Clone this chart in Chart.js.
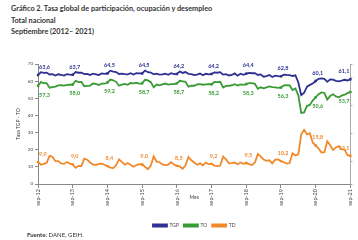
<!DOCTYPE html>
<html>
<head>
<meta charset="utf-8">
<script src="https://cdn.jsdelivr.net/npm/chart.js@4"></script>
<style>
  body { margin: 0; width: 358px; height: 240px; background: #fff; font-family: Lato, sans-serif; color: #333; position: relative; overflow: hidden; }
  .titulo { position: absolute; left: 11px; font-weight: bold; font-size: 7.3px; line-height: 8px; }
  #grafico { position: absolute; left: 0; top: 40px; width: 358px; height: 200px; }
  .fuente { position: absolute; left: 27px; top: 231px; font-size: 6px; line-height: 7px; }
</style>
</head>
<body>
<div class="titulo" style="top:5px">Gráfico 2. Tasa global de participación, ocupación y desempleo</div>
<div class="titulo" style="top:17px">Total nacional</div>
<div class="titulo" style="top:28px">Septiembre (2012– 2021)</div>
<div id="grafico"><canvas id="chart"></canvas></div>
<div class="fuente"><b>Fuente:</b> DANE, GEIH.</div>
<script>
// Meses sep-2012 a sep-2021
const meses = ['ene', 'feb', 'mar', 'abr', 'may', 'jun', 'jul', 'ago', 'sep', 'oct', 'nov', 'dic'];
const categorias = [];
for (let i = 0; i < 109; i++) {
    const m = 8 + i;
    categorias.push(meses[m % 12] + '-' + (12 + Math.floor(m / 12)));
}

// Tasa global de participación
const tgp = [
    63.6, 65.2, 64.8, 65.0,
    63.9, 64.1, 63.3, 64.0, 63.6, 63.2, 64.1, 63.8, 63.7, 65.3, 64.9, 65.0,
    64.1, 64.2, 63.6, 64.4, 64.0, 63.6, 64.5, 64.2, 64.5, 66.1, 65.5, 65.3,
    64.2, 64.4, 64.1, 64.0, 64.6, 63.9, 64.7, 64.5, 64.5, 66.2, 65.2, 65.0,
    64.0, 64.4, 63.8, 63.9, 64.3, 63.7, 64.6, 64.1, 64.2, 65.6, 64.8, 65.3,
    64.3, 64.1, 63.5, 63.8, 64.4, 63.4, 64.3, 64.0, 64.2, 65.1, 64.9, 65.2,
    63.8, 64.1, 63.3, 63.6, 64.5, 63.2, 64.3, 63.7, 64.4, 64.8, 64.6, 64.7,
    63.6, 63.9, 62.6, 62.9, 63.6, 62.4, 63.2, 62.9, 62.8, 63.8, 63.6, 63.5,
    63.0, 63.4, 59.2, 51.8, 53.2, 56.8, 57.8, 58.6, 60.1, 61.4, 61.6, 61.3,
    59.6, 61.0, 60.9, 60.2, 59.9, 60.3, 60.8, 60.4, 61.1
];

// Tasa de ocupación
const to = [
    57.3, 59.4, 58.8, 58.8,
    56.2, 56.5, 56.8, 57.5, 57.6, 57.4, 57.8, 57.9, 58.0, 60.2, 59.4, 59.5,
    57.0, 57.3, 57.4, 58.6, 58.4, 57.7, 58.5, 58.5, 59.2, 60.9, 60.5, 59.6,
    57.3, 58.0, 58.4, 57.9, 58.9, 58.7, 59.0, 58.6, 58.7, 60.8, 60.4, 59.4,
    56.4, 58.0, 57.5, 58.1, 58.6, 58.0, 58.3, 58.3, 58.7, 60.2, 59.9, 59.6,
    56.8, 57.4, 57.3, 58.1, 58.3, 57.9, 58.1, 58.2, 58.2, 59.5, 59.4, 59.6,
    56.3, 57.2, 57.3, 57.6, 58.2, 57.4, 58.1, 57.8, 58.3, 58.9, 58.9, 58.4,
    55.5, 56.4, 55.8, 56.4, 56.9, 56.5, 56.4, 56.1, 56.3, 57.5, 57.7, 57.5,
    54.8, 55.7, 51.7, 41.5, 41.8, 45.6, 46.1, 48.8, 50.6, 52.4, 53.4, 53.1,
    49.3, 51.3, 52.3, 51.1, 50.6, 51.6, 52.1, 53.0, 53.7
];

// Tasa de desempleo (eje derecho)
const td = [
    9.9, 8.9, 9.2, 9.6,
    12.1, 11.8, 10.2, 10.2, 9.4, 9.2, 9.9, 9.3, 9.0, 7.8, 8.5, 8.4,
    11.1, 10.7, 9.7, 9.0, 8.8, 9.2, 9.3, 8.9, 8.4, 7.9, 7.7, 8.7,
    10.8, 9.9, 8.9, 9.5, 8.9, 8.2, 8.8, 9.1, 9.0, 8.2, 7.3, 8.6,
    11.9, 10.0, 9.8, 9.0, 8.8, 8.9, 9.8, 9.0, 8.5, 8.3, 7.5, 8.7,
    11.7, 10.5, 9.7, 8.9, 9.4, 8.7, 9.7, 9.1, 9.2, 8.6, 8.4, 8.6,
    11.8, 10.8, 9.4, 9.5, 9.7, 9.1, 9.7, 9.2, 9.5, 9.1, 8.8, 9.7,
    12.8, 11.8, 10.8, 10.3, 10.5, 9.4, 10.7, 10.8, 10.2, 9.8, 9.3, 9.5,
    13.0, 12.2, 12.6, 19.8, 21.4, 19.8, 20.2, 16.8, 15.8, 14.7, 13.3, 13.4,
    17.3, 15.9, 14.2, 15.1, 15.6, 14.4, 14.3, 12.3, 12.1
];

const esSeptiembre = i => i % 12 === 0;

// Etiquetas de valor en cada septiembre
const etiquetasValor = {
    id: 'etiquetasValor',
    afterDatasetsDraw(chart) {
        const ctx = chart.ctx;
        ctx.save();
        ctx.font = 'bold 5.5px Lato';
        ctx.textBaseline = 'middle';
        chart.data.datasets.forEach((ds, d) => {
            const meta = chart.getDatasetMeta(d);
            ctx.fillStyle = ds.borderColor;
            meta.data.forEach((pt, i) => {
                if (!esSeptiembre(i)) return;
                let x = pt.x + 2;
                ctx.textAlign = 'center';
                if (i === 0) { ctx.textAlign = 'left'; x = pt.x + 1; }
                if (i === meta.data.length - 1) { ctx.textAlign = 'right'; x = pt.x - 1; }
                const texto = ds.data[i].toFixed(1).replace('.', ',');
                ctx.fillText(texto, x, pt.y + ds.desplazamiento);
            });
        });
        ctx.restore();
    }
};

// Título del eje x junto a las etiquetas
const tituloMes = {
    id: 'tituloMes',
    afterDraw(chart) {
        const ctx = chart.ctx;
        const area = chart.chartArea;
        ctx.save();
        ctx.font = '5px Lato';
        ctx.fillStyle = '#444';
        ctx.textAlign = 'center';
        ctx.textBaseline = 'middle';
        ctx.fillText('Mes', (area.left + area.right) / 2, area.bottom + 13);
        ctx.restore();
    }
};

new Chart(document.getElementById('chart'), {
    type: 'line',
    data: {
        labels: categorias,
        datasets: [
            { label: 'TGP', data: tgp, borderColor: '#2e3192', backgroundColor: '#2e3192', yAxisID: 'y', desplazamiento: -8 },
            { label: 'TO', data: to, borderColor: '#3a9b35', backgroundColor: '#3a9b35', yAxisID: 'y', desplazamiento: 9 },
            { label: 'TD', data: td, borderColor: '#f0892b', backgroundColor: '#f0892b', yAxisID: 'y1', desplazamiento: -8 }
        ]
    },
    options: {
        responsive: true,
        maintainAspectRatio: false,
        animation: false,
        layout: { padding: { top: 24, bottom: 2 } },
        elements: {
            line: { borderWidth: 1.8, tension: 0 },
            point: {
                pointStyle: 'rect',
                radius: ctx => esSeptiembre(ctx.dataIndex) ? 1.7 : 0,
                borderWidth: 0,
                hoverRadius: 0
            }
        },
        plugins: {
            legend: {
                position: 'bottom',
                fullSize: false,
                labels: { boxWidth: 14, boxHeight: 2, padding: 5, color: '#444', font: { size: 5, family: 'Lato' } }
            },
            tooltip: { enabled: false }
        },
        scales: {
            x: {
                grid: { drawOnChartArea: false, tickLength: 4, color: '#888' },
                border: { color: '#888' },
                ticks: {
                    autoSkip: false,
                    minRotation: 90,
                    maxRotation: 90,
                    padding: 1,
                    color: '#444',
                    font: { size: 5.5, family: 'Lato' },
                    callback: (v, i) => esSeptiembre(i) ? categorias[i] : null
                },
                afterFit: s => { s.height = 34; }
            },
            y: {
                position: 'left',
                min: 0,
                max: 70,
                ticks: { stepSize: 10, padding: 2, color: '#444', font: { size: 4.5, family: 'Lato' } },
                grid: { drawOnChartArea: false, tickLength: 3, color: '#888' },
                border: { color: '#888' },
                title: { display: true, text: 'Tasa TGP - TO', color: '#444', font: { size: 5, family: 'Lato' }, padding: { top: 15 } },
                afterFit: s => { s.width = 38; }
            },
            y1: {
                position: 'right',
                min: 2,
                max: 45,
                ticks: { display: false },
                grid: { drawOnChartArea: false, tickLength: 2, color: '#aaa' },
                border: { color: '#aaa' },
                afterFit: s => { s.width = 6; }
            }
        }
    },
    plugins: [etiquetasValor, tituloMes]
});
</script>
</body>
</html>
